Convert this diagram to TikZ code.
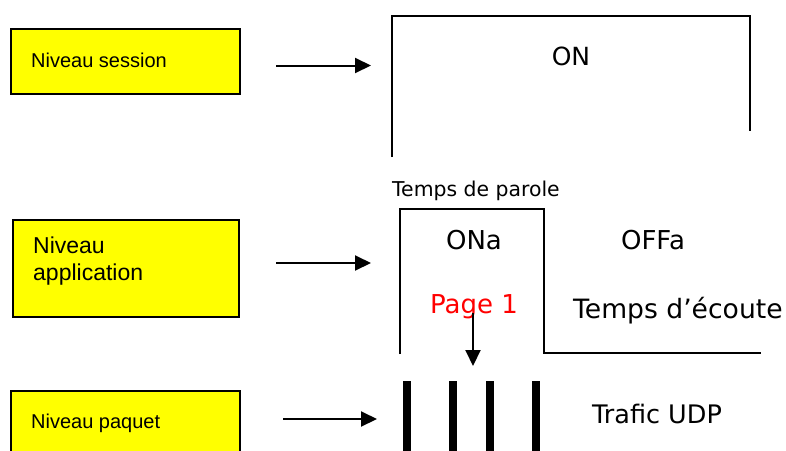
\documentclass[tikz,border=0pt]{standalone}
\usepackage{fontspec}
\setmainfont{DejaVu Sans}
\newfontfamily\boxfont{Liberation Sans}
\usetikzlibrary{arrows.meta}
\definecolor{boxyellow}{RGB}{255,255,0}
\begin{document}
\begin{tikzpicture}[x=1pt,y=-1pt,
  levelbox/.style={draw=black,line width=2pt,fill=boxyellow,inner sep=0pt},
  boxtext/.style={anchor=base west,inner sep=0pt,font=\boxfont\fontsize{20}{24}\selectfont},
  signal/.style={line width=2pt,line join=miter},
  lbl/.style={inner sep=0pt,anchor=base,font=\fontsize{26}{30}\selectfont},
  toarrow/.style={line width=2pt,-{Triangle[length=16pt,width=15pt]}},
  burst/.style={line width=8pt}]
\useasboundingbox (0,0) rectangle (786,450);

% level boxes on the left
\path[levelbox] (11,29) rectangle (240,94);
\node[boxtext] (ts) at (31,67) {Niveau session};
\path[levelbox] (13,220) rectangle (239,317);
\node[boxtext,font=\boxfont\fontsize{23}{27}\selectfont] (ta1) at (33,253) {Niveau};
\node[boxtext,font=\boxfont\fontsize{23}{27}\selectfont] (ta2) at (33,280) {application};
\path[levelbox] (11,391) rectangle (240,460);
\node[boxtext] (tp) at (31,428) {Niveau paquet};

% arrows from the levels
\coordinate (s1) at (276,65.5);  \coordinate (e1) at (371,65.5);
\coordinate (s2) at (276,263); \coordinate (e2) at (371,263);
\coordinate (s3) at (283,419); \coordinate (e3) at (377,419);
\draw[toarrow] (s1) -- (e1);
\draw[toarrow] (s2) -- (e2);
\draw[toarrow] (s3) -- (e3);

% session level
\draw[signal] (392,157) -- (392,16) -- (750,16) -- (750,131);
\node[lbl,font=\fontsize{25}{29}\selectfont] (on) at (571,65) {ON};

% application level
\node[inner sep=0pt,anchor=base west,font=\fontsize{20.4}{24}\selectfont] (tpar) at (392,196) {Temps de parole};
\draw[signal] (400,354) -- (400,209) -- (544,209) -- (544,353) -- (761,353);
\node[lbl] (ona) at (474,249) {ONa};
\node[lbl] (offa) at (653,249) {OFFa};
\node[lbl,text=red] (page) at (474,313) {Page 1};
\node[lbl,anchor=base west,font=\fontsize{26.6}{30}\selectfont] (tec) at (573,318) {Temps d’écoute};
\coordinate (pk) at (473,366);
\draw[toarrow] (page.base -| pk) -- (pk);

% packet level
\foreach \bx in {406.7,452.5,490,535.5}
  \draw[burst] (\bx,381) -- (\bx,452);
\node[lbl,font=\fontsize{25.5}{30}\selectfont] (udp) at (657,423) {Trafic UDP};
\end{tikzpicture}
\end{document}
